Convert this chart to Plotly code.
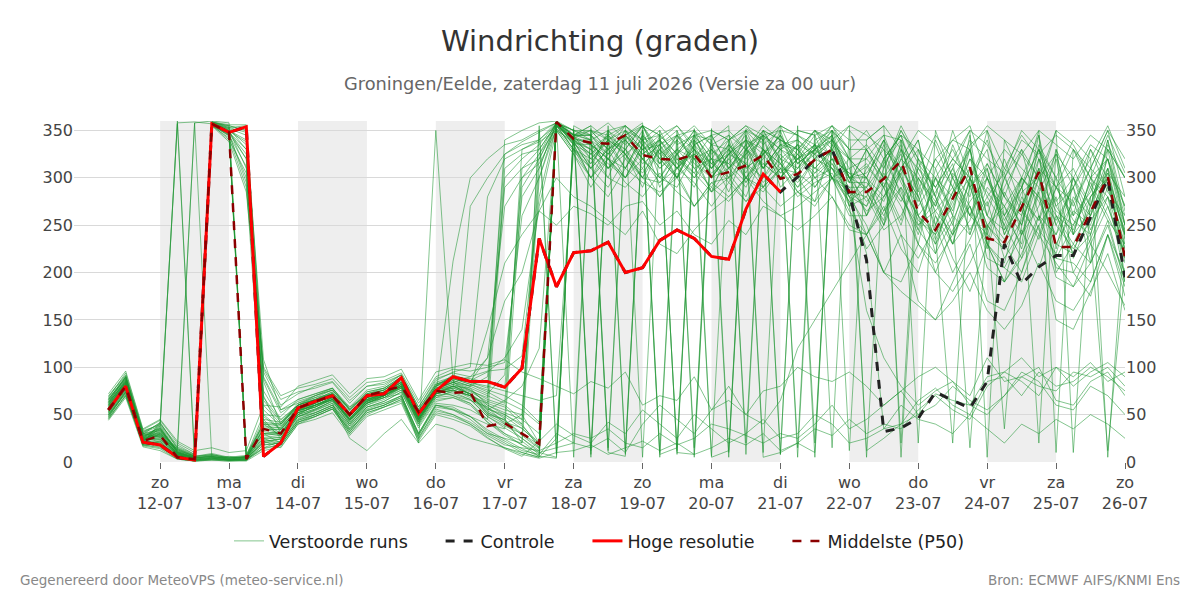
import pandas as pd
import plotly.graph_objects as go

# ---------------- data ----------------
run_start = "2026-07-11 06:00"
n_steps = 60  # 6-hourly, 11-07 06:00 .. 26-07 00:00

hres = [55, 80, 21, 18, 5, 2, 357, 348, 354, 6, 20, 57, 64, 70, 50, 70, 72, 89, 51, 75,
        90, 85, 85, 79, 99, 236, 185, 221, 223, 232, 200, 205, 234, 245, 236, 217, 214, 267, 304, 285]

control = hres[:40] + [301, 320, 330, 283, 213, 32, 36, 46, 74, 65, 57, 85, 230, 188, 206, 218, 218, 259, 299, 195]

p50 = [55, 80, 22, 28, 5, 3, 357, 348, 3, 35, 30, 57, 64, 70, 50, 70, 75, 80, 53, 75,
       73, 74, 38, 41, 30, 19, 359, 341, 337, 336, 345, 324, 320, 319, 325, 301, 306, 313, 324, 299,
       304, 319, 330, 285, 285, 299, 318, 264, 245, 278, 311, 236, 232, 269, 306, 227, 227, 264, 301, 216]

perturbed_runs = [
    [60,85,25,38, 358,359,357,352, 345,108,55,62, 70,78,55,72, 76,88,48,80, 92,86,95,110, 140,270,350,338, 310,350,325,290, 335,300,345,320, 285,330,310,350, 300,275,335,300, 300,250,330,290, 220,305,280,350, 260,230,320,270, 290,210,330,300],
    [52,78,20,42, 357,3,358,355, 350,60,40,58, 65,72,48,68, 70,82,45,72, 80,78,60,52, 45,30,358,345, 345,320,300,335, 350,315,290,330, 305,280,325,340, 330,300,310,280, 270,320,285,240, 300,260,345,230, 210,280,255,330, 240,300,270,215],
    [66,88,28,30, 15,358,360,358, 5,35,30,55, 62,70,45,66, 72,80,52,76, 70,65,58,40, 50,20,355,340, 330,300,345,355, 315,340,320,285, 330,305,350,315, 290,320,340,295, 330,290,250,310, 280,230,300,260, 320,270,235,290, 260,330,300,250],
    [55,80,22,25, 10,5,356,348, 330,85,40,60, 68,72,58,70, 74,86,50,78, 84,80,72,92, 280,310,358,335, 300,335,310,340, 290,325,350,310, 340,295,315,300, 320,345,300,285, 240,280,310,340, 250,300,270,225, 285,250,310,200, 230,270,340,265],
    [48,75,30,35, 12,6,358,350, 310,70,30,48, 55,65,40,62, 68,72,20,350, 85,70,55,65, 80,120,355,342, 350,330,355,340, 320,300,335,345, 310,335,290,325, 305,330,345,270, 310,340,295,260, 230,280,320,300, 250,215,285,325, 300,245,290,230],
    [63,90,26,28, 8,3,357,349, 320,45,25,50, 60,68,42,65, 70,78,45,70, 212,300,320,335, 340,350,358,350, 340,310,330,300, 345,325,305,335, 300,350,330,310, 335,290,320,305, 285,255,340,305, 270,335,290,245, 300,330,260,240, 275,310,350,280],
    [57,83,19,22, 6,2,359,353, 355,40,28,52, 58,66,46,64, 72,84,50,74, 78,270,300,325, 335,340,356,330, 315,345,320,350, 300,290,325,310, 330,315,345,290, 310,335,300,320, 320,300,270,230, 310,260,240,290, 270,300,345,260, 220,280,310,195],
    [70,92,32,40, 18,8,355,345, 300,95,60,72, 80,85,65,80, 84,92,58,86, 95,100,280,320, 330,338,350,325, 290,320,300,330, 335,350,310,320, 345,300,325,355, 315,330,350,300, 260,310,350,320, 290,320,300,340, 280,260,330,290, 310,270,335,300],
    [50,72,18,15, 5,2,356,346, 295,30,20,45, 52,60,35,58, 62,70,30,62, 60,55,45,300, 320,335,358,345, 355,340,350,330, 345,355,335,345, 350,330,355,340, 325,350,340,355, 345,330,310,280, 320,340,355,300, 330,310,290,350, 335,300,320,270],
    [62,86,24,32, 9,4,358,351, 335,75,45,60, 66,74,52,70, 76,88,50,80, 90,85,110,270, 300,325,352,335, 300,280,310,295, 285,300,270,290, 275,300,285,310, 280,295,305,275, 225,250,290,260, 200,245,270,230, 190,215,250,280, 200,175,240,185],
    [45,70,21,20, 7,3,357,347, 320,50,35,55, 62,70,50,66, 70,82,46,75, 82,75,68,340, 350,358,360,350, 345,358,340,355, 330,345,350,325, 340,355,335,350, 345,330,355,320, 300,280,320,350, 335,290,340,320, 305,350,330,300, 340,320,355,310],
    [58,84,27,34, 11,5,356,340, 305,65,42,58, 64,70,48,68, 74,80,44,76, 86,80,90,290, 310,320,355,330, 320,300,290,310, 280,305,270,295, 300,275,290,310, 285,300,280,245, 240,200,180,165, 150,170,200,160, 140,165,210,170, 160,190,240,175],
    [66,90,30,26, 14,7,359,355, 350,88,52,64, 70,76,56,74, 78,90,56,82, 88,84,78,325, 338,348,358,340, 325,340,310,345, 320,300,340,315, 335,310,325,345, 300,330,315,290, 290,335,300,255, 240,270,320,280, 250,300,280,230, 265,250,305,240],
    [53,79,23,29, 6,2,358,348, 325,55,38,55, 58,68,44,63, 68,79,40,68, 75,70,62,310, 325,330,357,336, 335,310,325,300, 295,320,305,285, 310,330,295,315, 290,305,330,270, 280,245,260,300, 275,230,255,310, 240,285,300,215, 250,295,260,220],
    [60,82,20,18, 4,1,357,350, 340,25,18,42, 50,58,32,55, 60,68,28,60, 55,48,40,35, 290,320,358,345, 350,340,330,355, 345,325,350,335, 330,350,340,355, 345,335,355,330, 350,320,345,330, 310,340,330,355, 340,325,350,335, 320,345,330,300],
    [68,94,34,44, 20,10,355,342, 290,100,70,78, 82,88,68,84, 86,94,62,90, 98,96,100,105, 260,300,352,328, 310,290,320,300, 280,310,295,270, 295,275,300,320, 285,270,300,260, 260,290,240,215, 250,200,235,275, 215,245,205,260, 230,210,250,190],
    [47,74,25,24, 8,4,358,353, 348,42,30,50, 60,66,45,64, 70,80,48,72, 80,72,50,45, 330,340,359,345, 340,325,350,330, 315,345,330,300, 325,350,310,335, 340,320,345,300, 315,290,330,285, 340,300,260,315, 280,330,300,250, 290,330,285,260],
    [56,81,22,36, 10,5,356,345, 312,68,44,60, 66,72,50,69, 73,85,48,77, 84,78,70,62, 310,330,357,335, 325,310,340,320, 300,330,310,290, 320,300,330,315, 295,320,310,285, 270,300,325,250, 265,290,245,280, 305,240,270,320, 240,265,300,210],
    [64,88,29,31, 13,6,359,356, 356,90,55,66, 72,78,58,76, 80,92,55,84, 90,88,84,78, 300,315,350,325, 300,320,295,280, 305,285,270,295, 280,300,290,270, 285,275,300,265, 240,270,225,200, 260,215,180,230, 205,190,240,210, 185,230,200,165],
    [51,76,17,14, 3,1,357,349, 338,22,15,40, 48,56,30,52, 58,66,25,56, 50,42,30,25, 20,300,358,350, 350,345,355,340, 355,335,345,350, 340,355,345,330, 350,345,355,340, 340,355,330,310, 345,320,350,335, 300,340,325,345, 330,310,350,320],
    [69,91,31,41, 16,8,355,338, 285,98,66,74, 78,84,62,80, 82,92,58,88, 94,90,96,98, 112,280,355,330, 310,330,300,320, 295,310,325,285, 300,315,290,310, 305,290,315,280, 300,265,310,280, 235,275,300,250, 270,225,290,260, 245,290,255,230],
    [54,79,26,27, 9,4,358,352, 330,48,34,54, 60,68,46,65, 72,82,46,74, 78,72,56,50, 40,325,359,342, 335,320,345,325, 340,310,330,315, 325,340,310,330, 320,335,310,295, 330,300,275,310, 290,250,310,285, 260,300,275,240, 300,270,320,250],
    [59,83,23,33, 10,4,357,346, 6,30,28,52, 62,70,48,66, 72,84,50,76, 82,76,62,55, 50,310,358,338, 330,315,300,335, 310,325,300,320, 315,295,330,305, 325,300,320,285, 280,320,345,295, 250,285,330,260, 235,270,310,290, 255,240,300,225],
    [61,87,27,29, 7,3,358,350, 4,20,25,50, 56,64,40,60, 68,76,42,70, 72,66,48,38, 30,15,359,345, 345,330,340,320, 335,345,320,330, 310,335,345,320, 335,325,340,310, 320,345,300,270, 300,330,290,315, 280,250,335,300, 270,310,290,245],
    [46,71,19,21, 5,2,356,344, 3,15,22,48, 52,60,38,58, 64,74,38,66, 68,62,42,30, 22,8,358,340, 320,340,325,305, 330,310,335,300, 325,315,300,330, 310,325,300,275, 290,260,305,330, 280,240,275,300, 260,290,245,220, 280,260,310,235],
    [67,89,33,39, 15,7,359,354, 8,40,38,60, 70,76,55,72, 76,88,52,80, 88,82,76,70, 60,42,360,346, 340,350,335,355, 325,340,355,335, 345,330,350,340, 330,350,335,320, 335,310,355,320, 300,280,335,350, 310,290,330,275, 300,335,320,260],
    [55,77,24,23, 8,3,357,348, 5,25,26,52, 58,66,44,62, 70,80,44,72, 76,70,52,42, 36,18,359,344, 335,320,345,330, 340,315,325,305, 320,340,330,315, 335,310,330,300, 305,330,280,250, 275,310,260,240, 290,325,300,265, 250,280,305,280],
    [50,76,21,40, 360,5,3,6, 4,32,30,54, 60,68,45,64, 70,80,46,72, 78,72,56,48, 35,20,358,342, 330,345,325,340, 315,330,320,300, 310,325,340,300, 320,310,330,295, 295,275,320,300, 265,240,300,330, 245,270,320,250, 225,255,280,240],
    [57,82,25,28, 12,358,4,5, 3,28,30,54, 60,66,44,62, 70,78,42,72, 76,68,50,40, 25,10,5,350, 8,355,12,350, 5,340,15,352, 10,330,345,8, 355,20,340,300, 290,315,340,20, 350,300,330,260, 245,290,350,10, 330,290,320,240],
    [63,85,28,36, 11,5,8,4, 6,38,36,58, 64,72,50,68, 74,84,48,76, 80,74,64,58, 40,15,358,5, 352,12,345,358, 10,350,5,340, 355,8,350,340, 15,350,330,355, 5,320,345,280, 230,260,15,250, 225,255,300,350, 10,280,300,215],
    [49,74,18,19, 4,1,3,2, 2,18,20,44, 50,58,32,54, 60,68,28,58, 55,45,30,20, 10,5,358,350, 5,350,8,355, 345,12,352,6, 340,350,10,355, 345,5,350,12, 340,355,5,300, 270,310,350,5, 340,300,20,330, 290,320,5,250],
    [65,89,30,33, 13,6,7,5, 4,35,34,56, 62,70,48,66, 72,82,46,74, 80,72,58,46, 20,355,8,352, 12,350,355,5, 350,8,345,340, 5,352,340,8, 350,345,15,350, 330,345,340,260, 240,20,300,250, 35,250,310,230, 220,240,12,205],
    [52,77,22,26, 7,3,5,3, 2,24,26,50, 56,64,40,60, 66,76,40,68, 70,62,45,30, 18,6,4,355, 345,10,6,350, 8,15,340,5, 12,345,5,10, 20,10,350,330, 12,25,40,65, 78,60,50,85, 90,70,95,80, 85,100,90,75],
    [44,68,16,12, 3,1,2,1, 1,12,16,40, 45,52,28,48, 55,62,22,50, 45,38,25,15, 8,4,10,12, 18,8,15,22, 12,20,8,15, 25,18,30,12, 20,35,28,45, 30,40,35,55, 70,55,45,80, 95,85,70,100, 90,105,85,95],
    [72,96,35,45, 22,12,15,10, 12,60,58,80, 86,92,72,88, 90,98,65,95, 100,104,102,108, 95,88,80,72, 85,78,95,60, 70,65,90,55, 65,50,75,80, 100,90,85,95, 80,60,75,90, 100,85,70,110, 85,90,80,75, 95,90,100,80],
    [48,73,20,17, 5,2,4,2, 3,20,22,46, 52,60,36,56, 62,70,30,60, 58,48,32,22, 12,8,30,20, 15,25,10,40, 60,45,30,55, 80,50,40,65, 120,150,180,210, 240,200,190,230, 200,180,210,250, 230,200,260,215, 210,190,240,200],
    [62,86,26,37, 10,4,6,3, 5,42,40,60, 66,74,52,70, 76,88,50,80, 86,80,140,210, 240,265,250,270, 262,250,270,275, 250,265,240,230, 255,240,270,260, 245,260,280,250, 240,265,290,230, 210,240,270,205, 190,220,260,195, 185,210,255,190],
    [59,84,24,31, 9,4,7,4, 6,45,42,60, 66,72,50,68, 72,84,48,76, 84,90,110,170, 200,265,300,280, 270,255,240,265, 230,220,245,265, 280,300,275,260, 270,285,300,290, 265,280,305,245, 220,255,295,215, 205,240,285,205, 200,235,280,195],
    [55,80,22,20, 6,2,3,2, 2,15,18,42, 48,56,34,52, 58,66,26,54, 50,40,28,18, 15,12,20,30, 25,35,20,15, 30,18,25,40, 35,28,20,30, 25,40,60,35, 45,60,75,50, 60,80,65,55, 70,95,85,60, 55,80,70,50],
    [58,79,21,30, 8,3,5,2, 4,22,24,48, 55,62,25,12, 30,45,20,40, 35,25,20,15, 10,5,25,345, 345,325,350,320, 335,310,330,300, 325,340,310,335, 320,330,345,300, 312,290,335,260, 285,315,240,300, 255,290,330,270, 240,300,280,225],
    [61,83,23,27, 9,4,6,3, 5,30,32,55, 60,68,46,64, 70,80,44,72, 76,70,52,44, 30,18,356,340, 325,345,330,310, 340,320,300,330, 315,340,325,300, 330,310,300,280, 220,35,40,50, 72,65,60,90, 95,110,90,100, 80,95,105,90],
    [54,80,20,24, 6,2,4,2, 3,26,28,52, 58,66,42,62, 68,78,42,70, 74,66,48,36, 25,12,357,338, 310,330,345,320, 300,325,340,310, 330,300,320,345, 315,330,310,270, 160,110,80,60, 75,85,60,50, 70,90,100,65, 60,85,95,70],
    [46,70,18,16, 4,1,2,1, 2,14,18,42, 48,56,30,50, 58,64,24,52, 48,40,26,14, 6,22,40,28, 20,42,30,55, 40,25,50,35, 20,30,45,25, 30,50,40,20, 25,35,60,45, 40,30,50,35, 20,40,30,45, 35,50,40,25],
    [60,85,27,35, 11,5,6,4, 5,36,36,58, 64,72,50,68, 74,84,48,78, 84,76,66,60, 45,350,10,345, 355,15,350,340, 345,10,8,350, 340,20,345,350, 5,340,350,320, 285,250,310,340, 260,230,290,310, 240,275,255,300, 215,260,300,240],
    [64,87,29,42, 14,6,9,5, 7,50,48,66, 72,78,56,74, 78,90,54,82, 90,84,80,75, 70,65,70,330, 300,325,340,315, 330,300,320,345, 310,290,330,305, 320,335,300,310, 260,305,280,245, 300,265,330,240, 225,300,280,255, 290,240,310,270],
    [53,78,20,22, 5,2,4,2, 3,22,24,48, 54,62,38,58, 64,74,36,64, 68,60,42,28, 18,10,15,20, 350,330,345,325, 340,355,330,310, 335,320,345,330, 340,325,350,330, 330,300,350,315, 290,320,300,270, 310,345,320,290, 330,300,345,305],
    [66,90,31,38, 12,6,8,4, 6,40,40,62, 68,76,54,72, 78,88,52,82, 88,82,74,64, 55,40,358,345, 320,340,355,335, 310,330,345,300, 325,345,310,335, 330,350,320,305, 300,340,310,275, 320,290,260,300, 270,240,300,325, 260,285,330,250],
    [50,74,19,18, 4,2,3,2, 2,18,20,44, 50,58,34,54, 60,70,30,60, 56,48,34,24, 14,6,357,342, 335,320,310,345, 325,300,335,315, 300,325,350,320, 310,335,325,300, 275,295,255,320, 240,285,310,230, 300,265,240,290, 275,230,270,220],
    [57,81,23,30, 8,3,5,3, 4,30,30,54, 60,66,44,62, 70,80,44,72, 76,70,54,44, 28,14,355,338, 315,340,325,300, 330,310,345,320, 295,330,315,300, 325,305,320,280, 250,200,240,170, 150,190,230,170, 160,200,250,150, 140,180,220,160],
    [63,84,25,34, 10,4,6,3, 5,34,34,56, 62,70,48,66, 72,82,46,74, 80,72,60,50, 38,20,356,340, 340,310,330,355, 320,345,315,300, 335,310,325,345, 315,330,340,320, 300,340,20,330, 280,350,300,230, 190,260,345,225, 300,260,340,250],
]

tick_dates = pd.date_range("2026-07-12", "2026-07-26", freq="D")
day_names = ["zo", "ma", "di", "wo", "do", "vr", "za", "zo", "ma", "di", "wo", "do", "vr", "za", "zo"]
tick_labels = [f"{d}<br>{t.strftime('%d-%m')}" for d, t in zip(day_names, tick_dates)]
shaded_days = ["2026-07-12", "2026-07-14", "2026-07-16", "2026-07-18", "2026-07-20", "2026-07-22", "2026-07-24"]
y_ticks = [0, 50, 100, 150, 200, 250, 300, 350]

times = pd.date_range(run_start, periods=n_steps, freq="6h")

# ---------------- figure ----------------
pad = "\u00a0" * 5
fig = go.Figure()
for i, run in enumerate(perturbed_runs):
    fig.add_trace(go.Scatter(
        x=times, y=run, mode="lines", name="Verstoorde runs" + pad,
        line=dict(color="rgba(30,150,50,0.55)", width=1),
        legendgroup="ens", showlegend=(i == 0), hoverinfo="skip"))

fig.add_trace(go.Scatter(x=times[:len(control)], y=control, mode="lines", name="Controle" + pad,
                         line=dict(color="#222222", width=3, dash="dash")))
fig.add_trace(go.Scatter(x=times[:len(hres)], y=hres, mode="lines", name="Hoge resolutie" + pad,
                         line=dict(color="#ff0000", width=3)))
fig.add_trace(go.Scatter(x=times[:len(p50)], y=p50, mode="lines", name="Middelste (P50)",
                         line=dict(color="#8b0000", width=2.5, dash="dash")))
fig.add_trace(go.Scatter(x=[times[0]], y=[None], yaxis="y2", showlegend=False, hoverinfo="skip"))

for d in shaded_days:
    start = pd.Timestamp(d)
    fig.add_shape(type="rect", xref="x", yref="paper", x0=start, x1=start + pd.Timedelta(days=1),
                  y0=0, y1=1, fillcolor="#eeeeee", line_width=0, layer="below")

L, R, T, B = 74, 75, 121, 138
PW, PH = 1200 - L - R, 600 - T - B
font_family = "DejaVu Sans, Verdana, sans-serif"
fig.update_layout(
    width=1200, height=600,
    margin=dict(l=L, r=R, t=T, b=B),
    paper_bgcolor="white", plot_bgcolor="white",
    font=dict(family=font_family, color="#444", size=16),
    title=dict(text="Windrichting (graden)", x=0.5, xanchor="center", y=1 - 41 / 600, yanchor="middle",
               font=dict(size=29, color="#333")),
    xaxis=dict(range=[pd.Timestamp("2026-07-10 18:00"), pd.Timestamp("2026-07-26 00:00")],
               tickvals=tick_dates, ticktext=tick_labels, ticks="outside", ticklen=6,
               tickcolor="#666", showgrid=False, zeroline=False, showline=False,
               tickfont=dict(size=16, color="#444")),
    yaxis=dict(range=[0, 360], tickvals=y_ticks, showgrid=True, gridcolor="#d9d9d9",
               zeroline=False, showline=False, tickfont=dict(size=16, color="#444")),
    yaxis2=dict(range=[0, 360], tickvals=y_ticks, overlaying="y", side="right", showgrid=False,
                zeroline=False, showline=False, tickfont=dict(size=16, color="#444")),
    legend=dict(orientation="h", x=0.5, xanchor="center", y=(T + PH - 541) / PH, yanchor="middle",
                font=dict(size=17.5, color="#222"), traceorder="normal"),
    annotations=[
        dict(text="Groningen/Eelde, zaterdag 11 juli 2026 (Versie za 00 uur)", xref="paper", yref="paper",
             x=(600 - L) / PW, y=(T + PH - 83) / PH, xanchor="center", yanchor="middle", showarrow=False,
             font=dict(size=17.8, color="#666")),
        dict(text="Gegenereerd door MeteoVPS (meteo-service.nl)", xref="paper", yref="paper",
             x=(18 - L) / PW, y=(T + PH - 580) / PH, xanchor="left", yanchor="middle", showarrow=False,
             font=dict(size=13.5, color="#888")),
        dict(text="Bron: ECMWF AIFS/KNMI Ens", xref="paper", yref="paper",
             x=(1182 - L) / PW, y=(T + PH - 580) / PH, xanchor="right", yanchor="middle", showarrow=False,
             font=dict(size=13.5, color="#888")),
    ],
)

fig.write_html("out.html")
